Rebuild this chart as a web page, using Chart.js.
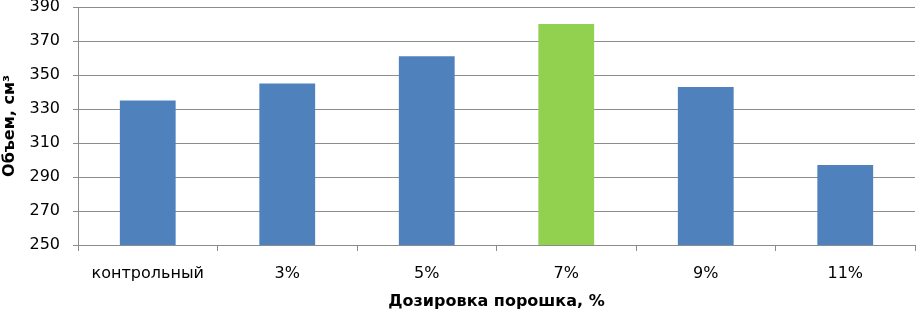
<!DOCTYPE html>
<html>
<head>
<meta charset="utf-8">
<script src="https://cdn.jsdelivr.net/npm/chart.js@4/dist/chart.umd.min.js"></script>
<style>
  html, body { margin: 0; padding: 0; background: #ffffff; }
  #wrap { width: 916px; height: 311px; position: relative; }
</style>
</head>
<body>
<div id="wrap"><canvas id="c" width="916" height="311"></canvas></div>
<script>
const categories = ['контрольный', '3%', '5%', '7%', '9%', '11%'];
const volumes = [335, 345, 361, 380, 343, 297];
const yTicks = [250, 270, 290, 310, 330, 350, 370, 390];
const highlightCategory = '7%';
const xTitle = 'Дозировка порошка, %';
const yTitle = 'Объем, см³';

const BLUE = '#4F81BD';
const GREEN = '#92D050';
const GRID = '#8C8C8C';
const FONT = "'DejaVu Sans', Arial, sans-serif";

new Chart(document.getElementById('c'), {
  type: 'bar',
  data: {
    labels: categories,
    datasets: [{
      data: volumes,
      backgroundColor: ctx => categories[ctx.dataIndex] === highlightCategory ? GREEN : BLUE,
      borderWidth: 0,
      categoryPercentage: 1.0,
      barPercentage: 0.4
    }]
  },
  options: {
    responsive: false,
    animation: false,
    devicePixelRatio: 1,
    layout: { padding: { top: 7, right: 1, left: 0, bottom: 0 } },
    plugins: { legend: { display: false }, tooltip: { enabled: false }, title: { display: false } },
    scales: {
      y: {
        min: yTicks[0],
        max: yTicks[yTicks.length - 1],
        afterBuildTicks: s => { s.ticks = yTicks.map(v => ({ value: v })); },
        afterFit: s => { s.width = 78; s.paddingTop = 0; s.paddingBottom = 0; },
        border: { display: true, color: GRID, width: 1 },
        grid: { color: GRID, lineWidth: 1, tickLength: 5, drawTicks: true },
        ticks: { color: '#000', font: { family: FONT, size: 16 }, padding: 13 },
        title: {
          display: true, text: yTitle, color: '#000',
          font: { family: FONT, size: 16, weight: 'bold' },
          padding: { top: 0, bottom: 0 }
        }
      },
      x: {
        afterFit: s => { s.height = 66; },
        border: { display: true, color: GRID, width: 1 },
        grid: { display: true, drawOnChartArea: false, drawTicks: true, tickLength: 6, color: GRID, offset: true },
        ticks: { color: '#000', font: { family: FONT, size: 16 }, padding: 13, maxRotation: 0, autoSkip: false },
        title: {
          display: true, text: xTitle, color: '#000',
          font: { family: FONT, size: 16, weight: 'bold' },
          padding: { top: 3, bottom: 0 }
        }
      }
    }
  }
});
</script>
</body>
</html>
